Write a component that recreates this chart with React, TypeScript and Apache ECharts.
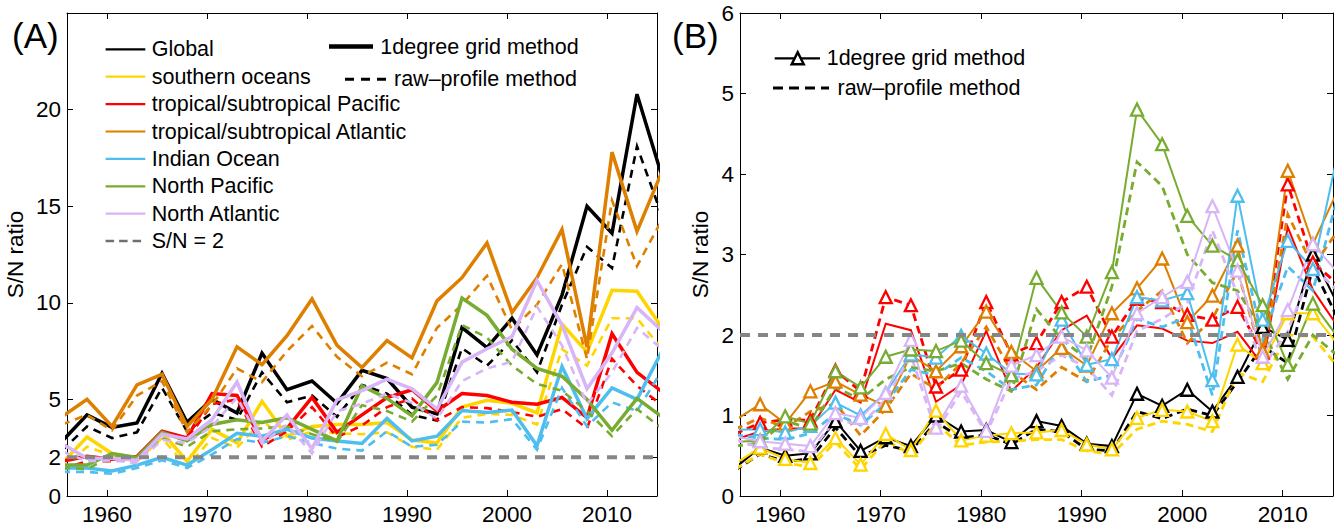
import { useEffect, useRef } from "react";
import * as echarts from "echarts";

// Sampling years (2.5-year steps); the axes clip the first and last half-step.
const years = [
  1955.5, 1958, 1960.5, 1963, 1965.5, 1968, 1970.5, 1973, 1975.5, 1978, 1980.5, 1983, 1985.5,
  1988, 1990.5, 1993, 1995.5, 1998, 2000.5, 2003, 2005.5, 2008, 2010.5, 2013, 2015.5,
];

const regionNames = [
  "Global",
  "southern oceans",
  "tropical/subtropical Pacific",
  "tropical/subtropical Atlantic",
  "Indian Ocean",
  "North Pacific",
  "North Atlantic",
];
const regionColors = ["#000000", "#FFD500", "#FF0000", "#DE7F00", "#4DBEEE", "#77AC30", "#D7B5F7"];

// Panel (A): S/N ratio, 1-degree grid method
const globalGridA = [2.83, 4.2, 3.55, 3.78, 6.35, 3.82, 5.0, 4.3, 7.4, 5.5, 5.95, 4.8, 6.5, 6.08, 4.6, 4.25, 8.72, 7.68, 9.2, 7.3, 10.4, 15.0, 13.6, 20.8, 16.55];
const southernGridA = [1.7, 3.05, 2.2, 1.9, 3.3, 1.8, 3.45, 2.75, 4.9, 3.1, 3.6, 3.7, 3.7, 3.8, 2.9, 2.75, 4.6, 4.95, 4.8, 4.3, 8.9, 7.45, 10.65, 10.6, 8.7];
const pacificGridA = [1.8, 2.05, 1.9, 2.05, 3.35, 3.0, 5.3, 5.2, 2.9, 3.5, 5.1, 3.3, 4.2, 5.1, 5.5, 4.4, 5.3, 5.2, 4.85, 4.75, 5.1, 4.05, 8.4, 6.4, 5.4];
const atlanticGridA = [4.1, 5.0, 3.6, 5.75, 6.3, 3.6, 5.0, 7.72, 6.8, 8.3, 10.2, 7.8, 6.65, 8.05, 7.15, 10.1, 11.3, 13.1, 9.5, 11.3, 13.8, 7.7, 17.8, 13.7, 16.8];
const indianGridA = [1.45, 1.45, 1.3, 1.6, 2.0, 1.6, 2.4, 3.25, 3.1, 3.45, 3.0, 2.85, 2.72, 4.02, 2.85, 3.1, 4.42, 4.32, 4.45, 2.6, 6.7, 4.0, 5.6, 5.0, 7.5];
const northPacificGridA = [1.6, 1.6, 2.2, 2.0, 3.3, 2.85, 3.7, 3.95, 3.8, 4.05, 3.45, 2.85, 5.7, 5.05, 4.15, 5.88, 10.25, 9.35, 7.6, 6.6, 6.2, 5.0, 3.4, 5.05, 4.1];
const northAtlanticGridA = [2.7, 1.95, 1.95, 1.85, 3.2, 2.95, 3.95, 5.9, 2.85, 4.2, 2.45, 4.98, 5.45, 6.05, 5.55, 4.5, 6.93, 7.62, 8.25, 11.15, 8.85, 5.55, 7.4, 9.75, 8.55];

// Panel (A): S/N ratio, raw-profile method
const globalRawA = [2.35, 3.6, 3.0, 3.3, 5.6, 3.35, 4.3, 3.95, 6.4, 4.85, 5.2, 4.1, 5.75, 5.3, 4.2, 3.9, 7.65, 6.75, 8.05, 6.4, 9.9, 12.9, 11.8, 18.1, 14.5];
const southernRawA = [1.35, 2.55, 2.1, 1.8, 3.0, 1.5, 3.0, 2.5, 3.9, 2.9, 3.35, 3.25, 3.2, 3.3, 2.55, 2.4, 4.05, 4.25, 4.2, 3.7, 7.6, 6.75, 9.2, 9.2, 7.6];
const pacificRawA = [1.4, 1.8, 1.8, 1.9, 3.2, 2.9, 4.75, 5.0, 2.55, 3.35, 4.6, 3.05, 3.65, 4.6, 5.05, 3.9, 4.6, 4.55, 4.35, 4.1, 4.5, 3.5, 7.1, 5.7, 4.7];
const atlanticRawA = [3.7, 4.2, 3.4, 5.2, 5.95, 3.3, 4.7, 6.6, 5.9, 7.5, 8.8, 7.2, 6.2, 6.9, 6.3, 8.7, 9.9, 11.4, 8.6, 9.9, 12.0, 7.1, 15.3, 11.9, 14.3];
const indianRawA = [1.25, 1.25, 1.15, 1.45, 1.85, 1.45, 2.15, 2.95, 2.75, 3.1, 2.75, 2.45, 2.35, 3.35, 2.55, 2.65, 3.85, 3.8, 3.98, 2.4, 5.6, 3.6, 4.85, 4.4, 6.5];
const northPacificRawA = [1.45, 1.4, 2.05, 1.85, 3.0, 2.55, 3.35, 3.45, 3.5, 3.6, 3.2, 2.8, 4.7, 4.4, 3.85, 5.2, 8.85, 8.2, 6.75, 5.8, 5.45, 4.4, 3.1, 4.5, 3.5];
const northAtlanticRawA = [2.3, 1.8, 1.85, 1.7, 2.9, 2.75, 3.6, 5.1, 2.7, 3.7, 2.2, 4.38, 4.78, 5.3, 4.82, 4.0, 5.95, 6.6, 6.95, 9.8, 7.8, 4.75, 6.4, 8.7, 7.6];

// Panel (B): S/N ratio, 1-degree grid method
const globalGridB = [0.35, 0.6, 0.5, 0.53, 0.93, 0.56, 0.73, 0.62, 1.0, 0.8, 0.82, 0.67, 0.93, 0.87, 0.65, 0.62, 1.27, 1.12, 1.32, 1.05, 1.48, 2.1, 1.94, 3.0, 2.37];
const southernGridB = [0.4, 0.6, 0.46, 0.41, 0.72, 0.39, 0.77, 0.57, 1.06, 0.69, 0.75, 0.78, 0.79, 0.82, 0.64, 0.58, 0.97, 1.07, 1.05, 0.93, 1.88, 1.65, 2.27, 2.27, 1.88];
const pacificGridB = [0.7, 0.8, 0.84, 0.84, 1.32, 1.16, 2.14, 2.06, 1.17, 1.38, 2.05, 1.3, 1.6, 2.06, 2.24, 1.71, 2.12, 2.08, 1.93, 1.9, 2.04, 1.63, 3.34, 2.56, 2.1];
const atlanticGridB = [0.94, 1.14, 0.9, 1.3, 1.42, 1.26, 1.12, 1.75, 1.55, 1.86, 2.29, 1.79, 1.55, 1.84, 1.62, 2.27, 2.58, 2.95, 2.16, 2.49, 3.11, 1.8, 4.04, 3.13, 3.8];
const indianGridB = [0.82, 0.83, 0.79, 0.87, 1.16, 1.0, 1.28, 1.76, 1.72, 1.99, 1.77, 1.52, 1.51, 2.19, 1.63, 1.7, 2.47, 2.43, 2.52, 1.44, 3.73, 2.19, 3.17, 2.82, 4.27];
const northPacificGridB = [0.67, 0.69, 0.99, 0.9, 1.55, 1.35, 1.73, 1.82, 1.8, 1.93, 1.65, 1.5, 2.71, 2.28, 1.98, 2.78, 4.8, 4.37, 3.48, 3.11, 2.93, 2.37, 1.63, 2.39, 1.97];
const northAtlanticGridB = [0.74, 0.68, 0.65, 0.62, 1.03, 0.97, 1.28, 1.94, 0.85, 1.37, 0.81, 1.62, 1.75, 1.98, 1.81, 1.47, 2.27, 2.47, 2.66, 3.6, 2.8, 1.73, 2.31, 3.13, 2.77];

// Panel (B): S/N ratio, raw-profile method
const globalRawB = [0.32, 0.52, 0.43, 0.46, 0.85, 0.49, 0.63, 0.56, 0.92, 0.72, 0.76, 0.64, 0.83, 0.8, 0.58, 0.56, 1.05, 0.96, 1.08, 1.0, 1.42, 1.86, 1.65, 2.84, 2.2];
const southernRawB = [0.33, 0.52, 0.41, 0.36, 0.67, 0.33, 0.69, 0.52, 0.9, 0.63, 0.67, 0.68, 0.7, 0.7, 0.56, 0.52, 0.83, 0.93, 0.89, 0.8, 1.53, 1.42, 2.0, 1.98, 1.6];
const pacificRawB = [0.77, 0.91, 0.95, 0.94, 1.56, 1.3, 2.47, 2.37, 1.36, 1.57, 2.41, 1.76, 1.9, 2.41, 2.6, 1.98, 2.45, 2.41, 2.25, 2.19, 2.35, 1.78, 3.87, 2.9, 2.63];
const atlanticRawB = [0.83, 0.97, 0.85, 1.05, 1.15, 0.75, 1.08, 1.52, 1.33, 1.65, 2.1, 1.55, 1.32, 1.6, 1.42, 1.95, 2.3, 2.55, 1.9, 2.2, 2.8, 1.7, 3.5, 2.85, 3.3];
const indianRawB = [0.76, 0.72, 0.7, 0.78, 1.02, 0.88, 1.15, 1.57, 1.5, 1.72, 1.55, 1.32, 1.38, 1.9, 1.42, 1.5, 2.2, 2.1, 2.22, 1.25, 3.3, 1.95, 2.85, 2.55, 3.74];
const northPacificRawB = [0.62, 0.66, 0.93, 0.84, 1.35, 1.2, 1.45, 1.6, 1.55, 1.65, 1.45, 1.3, 2.32, 1.95, 1.7, 2.6, 4.15, 3.85, 3.0, 2.65, 2.55, 2.05, 1.45, 2.0, 1.74];
const northAtlanticRawB = [0.7, 0.6, 0.58, 0.55, 0.95, 0.88, 1.2, 1.75, 0.8, 1.3, 0.78, 1.45, 1.55, 1.75, 1.6, 1.25, 2.05, 2.2, 2.4, 3.3, 2.5, 1.6, 2.05, 2.85, 2.54];

// In panel (B) the Pacific triangles sit on the raw-profile curve
const markerOnRawB = [false, false, true, false, false, false, false];

const xMin = 1956;
const xMax = 2015;
const xTickYears = [1960, 1970, 1980, 1990, 2000, 2010];
const yTicksA = [0, 2, 5, 10, 15, 20];
const yMaxA = 25;
const yTicksB = [0, 1, 2, 3, 4, 5, 6];
const yMaxB = 6;
const snThreshold = 2;

const FONT = '"Liberation Sans", Arial, Helvetica, sans-serif';

const gridA = [globalGridA, southernGridA, pacificGridA, atlanticGridA, indianGridA, northPacificGridA, northAtlanticGridA];
const rawA = [globalRawA, southernRawA, pacificRawA, atlanticRawA, indianRawA, northPacificRawA, northAtlanticRawA];
const gridB = [globalGridB, southernGridB, pacificGridB, atlanticGridB, indianGridB, northPacificGridB, northAtlanticGridB];
const rawB = [globalRawB, southernRawB, pacificRawB, atlanticRawB, indianRawB, northPacificRawB, northAtlanticRawB];

const toPoints = (vals: number[]) => years.map((y, k) => [y, vals[k]]);

function buildOption() {
  const frame = { show: true, onZero: false, lineStyle: { color: "#000", width: 1 } };
  const tick = (values: number[]) => ({
    show: true,
    inside: true,
    length: 6,
    customValues: values,
    lineStyle: { color: "#000", width: 1 },
  });
  const label = (values: number[], margin: number) => ({
    show: true,
    customValues: values,
    color: "#000",
    fontSize: 22.5,
    fontFamily: FONT,
    margin,
    formatter: (v: number) => String(v),
  });
  const noSplit = { show: false };

  const xAxes: any[] = [];
  const yAxes: any[] = [];
  [0, 1].forEach((g) => {
    xAxes.push({
      type: "value", gridIndex: g, position: "bottom", min: xMin, max: xMax,
      axisLine: frame, axisTick: tick(xTickYears), axisLabel: label(xTickYears, 7), splitLine: noSplit,
    });
    xAxes.push({
      type: "value", gridIndex: g, position: "top", min: xMin, max: xMax,
      axisLine: frame, axisTick: tick(xTickYears), axisLabel: { show: false }, splitLine: noSplit,
    });
    const yt = g === 0 ? yTicksA : yTicksB;
    yAxes.push({
      type: "value", gridIndex: g, position: "left", min: 0, max: g === 0 ? yMaxA : yMaxB,
      axisLine: frame, axisTick: tick(yt), axisLabel: label(yt, 6), splitLine: noSplit,
      name: "S/N ratio", nameLocation: "middle", nameRotate: 90, nameGap: g === 0 ? 40 : 28,
      nameTextStyle: { color: "#000", fontSize: 22.5, fontFamily: FONT },
    });
    yAxes.push({
      type: "value", gridIndex: g, position: "right", min: 0, max: g === 0 ? yMaxA : yMaxB,
      axisLine: frame, axisTick: tick(yt), axisLabel: { show: false }, splitLine: noSplit,
    });
  });

  const series: any[] = [];
  const noMark = { symbol: "none", showSymbol: false };

  // Panel (A): thick solid = grid method, thinner dashed = raw profiles
  regionNames.forEach((name, i) => {
    const color = regionColors[i];
    series.push({
      type: "line", name, xAxisIndex: 0, yAxisIndex: 0, data: toPoints(gridA[i]), ...noMark,
      lineStyle: { color, width: 3.5, join: "miter" }, silent: true,
    });
    series.push({
      type: "line", name, xAxisIndex: 0, yAxisIndex: 0, data: toPoints(rawA[i]), ...noMark,
      lineStyle: { color, width: 2.6, type: [8, 6], join: "miter" }, silent: true,
    });
  });

  // Panel (B): triangles mark one method per region
  regionNames.forEach((name, i) => {
    const color = regionColors[i];
    const tri = {
      symbol: "triangle", symbolSize: 12, showSymbol: true,
      itemStyle: { color: "#fff", borderColor: color, borderWidth: 2.3 },
    };
    series.push({
      type: "line", name, xAxisIndex: 2, yAxisIndex: 2, data: toPoints(gridB[i]),
      ...(markerOnRawB[i] ? noMark : tri),
      lineStyle: { color, width: 2, join: "miter" }, silent: true,
    });
    series.push({
      type: "line", name, xAxisIndex: 2, yAxisIndex: 2, data: toPoints(rawB[i]),
      ...(markerOnRawB[i] ? tri : noMark),
      lineStyle: { color, width: 2.8, type: [8, 5], join: "miter" }, silent: true,
    });
  });

  // S/N = 2 reference level across both panels
  [0, 2].forEach((ax) => {
    series.push({
      type: "line", name: "S/N = 2", xAxisIndex: ax, yAxisIndex: ax,
      data: [[xMin, snThreshold], [xMax, snThreshold]], ...noMark, z: 6, silent: true,
      lineStyle: { color: "#868686", width: 4, type: [10, 8] },
    });
  });

  // Legend drawn as graphic elements
  const txt = (x: number, y: number, text: string, size = 21.5) => ({
    type: "text", x, y, silent: true,
    style: { text, fill: "#000", fontSize: size, fontFamily: FONT, verticalAlign: "middle", align: "left" },
  });
  const seg = (x1: number, x2: number, y: number, stroke: string, lineWidth: number, lineDash?: number[]) => ({
    type: "line", silent: true, shape: { x1, y1: y, x2, y2: y },
    style: { stroke, lineWidth, lineDash: lineDash || null },
  });

  const elements: any[] = [];
  const rowTop = 49.3;
  const rowStep = 27.4;
  regionNames.forEach((name, i) => {
    const y = rowTop + rowStep * i;
    elements.push(seg(105.6, 145.3, y, regionColors[i], 2.2));
    elements.push(txt(151.7, y, name));
  });
  const snRow = rowTop + rowStep * regionNames.length;
  elements.push(seg(105.6, 145.3, snRow, "#6f6f6f", 2.5, [8.5, 5]));
  elements.push(txt(151.7, snRow, "S/N = 2"));

  elements.push(seg(329, 373, 46.6, "#000", 4.5));
  elements.push(txt(380.3, 46.6, "1degree grid method"));
  elements.push(seg(345, 387, 79.3, "#000", 3, [9, 7]));
  elements.push(txt(394, 79.3, "raw–profile method"));

  elements.push(seg(774.7, 820, 58.3, "#000", 2.2));
  elements.push({
    type: "polygon", silent: true,
    shape: { points: [[797.7, 52.3], [791.7, 64.3], [803.7, 64.3]] },
    style: { fill: "#fff", stroke: "#000", lineWidth: 2.5 },
  });
  elements.push(txt(826.7, 58.3, "1degree grid method"));
  elements.push(seg(773, 829, 88, "#000", 3, [10, 6]));
  elements.push(txt(837.5, 88, "raw–profile method"));

  elements.push(txt(12, 35, "(A)", 35));
  elements.push(txt(672, 35, "(B)", 35));

  return {
    animation: false,
    backgroundColor: "#fff",
    textStyle: { fontFamily: FONT },
    grid: [
      { left: 67, top: 13, width: 590, height: 483, outerBoundsMode: "none", containLabel: false },
      { left: 740, top: 13, width: 593, height: 483, outerBoundsMode: "none", containLabel: false },
    ],
    xAxis: xAxes,
    yAxis: yAxes,
    series,
    graphic: { elements },
  };
}

export default function App() {
  const ref = useRef<HTMLDivElement>(null);
  useEffect(() => {
    if (!ref.current) return;
    const chart = echarts.init(ref.current, undefined, { renderer: "svg" });
    chart.setOption(buildOption() as any);
    return () => chart.dispose();
  }, []);
  return (
    <div
      ref={ref}
      style={{ position: "fixed", left: 0, top: 0, width: 1340, height: 530, background: "#fff" }}
    />
  );
}
